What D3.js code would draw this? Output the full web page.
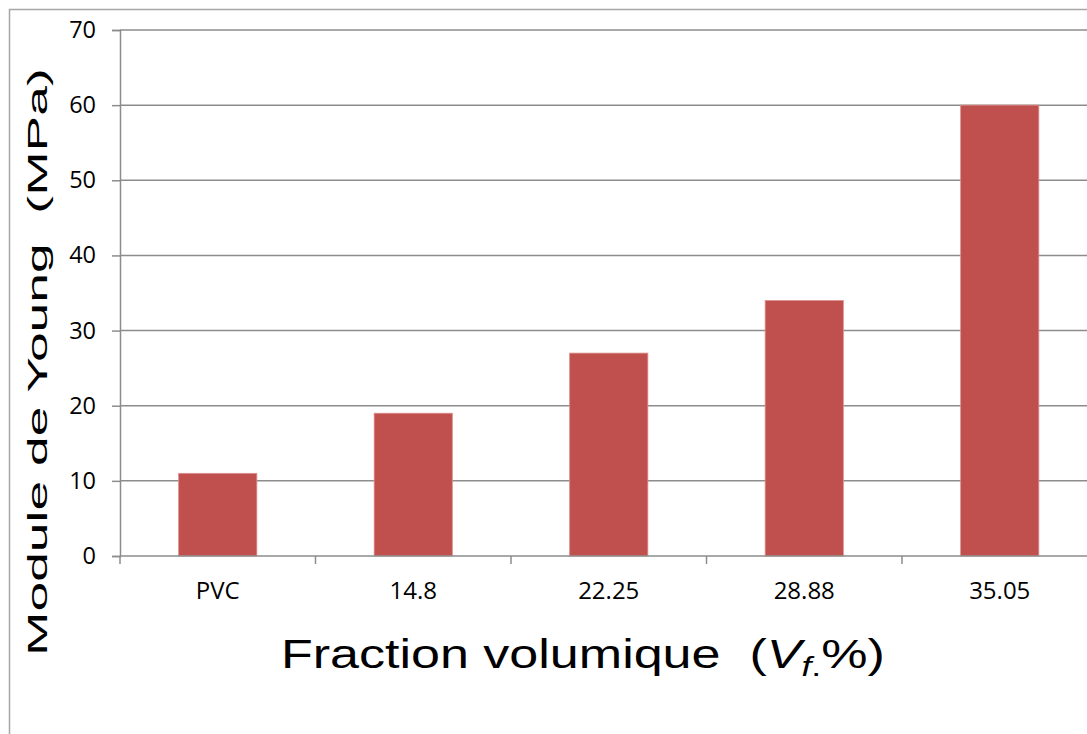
<!DOCTYPE html>
<html>
<head>
<meta charset="utf-8">
<script src="https://d3js.org/d3.v7.min.js"></script>
<style>
  body { margin: 0; background: #fff; }
  svg { display: block; }
  .title { white-space: pre; }
</style>
</head>
<body>
<div id="vis"></div>
<script>
// Young modulus vs fibre volume fraction

const FRAME_WIDTH = 1087;
const FRAME_HEIGHT = 734;
const MARGINS = {left: 120, top: 30, bottom: 178};

const categories = ["PVC", "14.8", "22.25", "28.88", "35.05"];
const youngModulus = [11, 19, 27, 34, 60];
const yTicks = [0, 10, 20, 30, 40, 50, 60, 70];

const STEP = 195.5;
const PLOT_RIGHT = MARGINS.left + STEP * categories.length;
const PLOT_BOTTOM = FRAME_HEIGHT - MARGINS.bottom;

const GRID = "#8c8c8c";
const BAR = "#c0504d";

const FRAME = d3.select("#vis")
  .append("svg")
    .attr("width", FRAME_WIDTH)
    .attr("height", FRAME_HEIGHT);

// outer chart border (only top and left are visible)
FRAME.append("path")
  .attr("d", "M9.5," + FRAME_HEIGHT + "V9.5H" + FRAME_WIDTH)
  .attr("fill", "none")
  .attr("stroke", "#a6a6a6")
  .attr("stroke-width", 1.5);

// scales
const X_SCALE = d3.scaleBand()
  .domain(categories)
  .range([MARGINS.left, PLOT_RIGHT])
  .padding(0);

const Y_SCALE = d3.scaleLinear()
  .domain([0, 70])
  .range([PLOT_BOTTOM, MARGINS.top]);

// horizontal gridlines
FRAME.append("g")
  .selectAll("line")
  .data(yTicks.filter(d => d > 0))
  .enter()
  .append("line")
    .attr("x1", MARGINS.left)
    .attr("x2", FRAME_WIDTH)
    .attr("y1", d => Y_SCALE(d))
    .attr("y2", d => Y_SCALE(d))
    .attr("stroke", GRID)
    .attr("stroke-width", 1.5);

// bars
const BAR_W = X_SCALE.bandwidth() * 0.4;
FRAME.append("g")
  .selectAll("rect")
  .data(youngModulus)
  .enter()
  .append("rect")
    .attr("x", (d, i) => X_SCALE(categories[i]) + (X_SCALE.bandwidth() - BAR_W) / 2)
    .attr("y", d => Y_SCALE(d))
    .attr("width", BAR_W)
    .attr("height", d => PLOT_BOTTOM - Y_SCALE(d))
    .attr("fill", BAR)
    .attr("stroke", "#dc8f8d")
    .attr("stroke-width", 0.8);

// y axis
const yAxis = FRAME.append("g")
  .attr("transform", "translate(" + MARGINS.left + ",0)")
  .call(d3.axisLeft(Y_SCALE).tickValues(yTicks).tickSize(8).tickPadding(16));
yAxis.select(".domain").attr("stroke", GRID).attr("stroke-width", 1.5);
yAxis.selectAll(".tick line").attr("stroke", GRID).attr("stroke-width", 1.5);
yAxis.selectAll(".tick text")
  .attr("font-family", "'Open Sans', sans-serif")
  .attr("font-size", "23.5px")
  .attr("fill", "#000");

// x axis: ticks on band boundaries
const xAxis = FRAME.append("g")
  .attr("transform", "translate(0," + PLOT_BOTTOM + ")");
xAxis.append("line")
  .attr("x1", MARGINS.left)
  .attr("x2", FRAME_WIDTH)
  .attr("stroke", GRID)
  .attr("stroke-width", 1.5);
xAxis.selectAll(".bound")
  .data(categories)
  .enter()
  .append("line")
    .attr("class", "bound")
    .attr("x1", d => X_SCALE(d))
    .attr("x2", d => X_SCALE(d))
    .attr("y1", 0)
    .attr("y2", 8)
    .attr("stroke", GRID)
    .attr("stroke-width", 1.5);
xAxis.selectAll(".lbl")
  .data(categories)
  .enter()
  .append("text")
    .attr("class", "lbl")
    .attr("x", d => X_SCALE(d) + X_SCALE.bandwidth() / 2)
    .attr("y", 43)
    .attr("text-anchor", "middle")
    .attr("font-family", "'Open Sans', sans-serif")
    .attr("font-size", "24px")
    .text(d => d);

// stretch a title to the width it has in the picture
function stretch(sel, length, x, y, rot) {
  const w = sel.node().getBBox().width;
  const sx = length / w;
  sel.attr("transform", "translate(" + x + "," + y + ")" + (rot ? " rotate(-90)" : "") + " scale(" + sx + ",1)");
}

// x axis title
const xTitle = FRAME.append("text")
  .attr("class", "title")
  .attr("font-family", "'Liberation Sans', Arial, sans-serif")
  .attr("font-size", "41px")
  .attr("fill", "#000");
xTitle.append("tspan").text("Fraction volumique  (");
xTitle.append("tspan").attr("font-style", "italic").text("V");
xTitle.append("tspan")
  .attr("font-style", "italic")
  .attr("font-size", "28px")
  .attr("dy", 8)
  .text("f");
xTitle.append("tspan").attr("font-size", "28px").text(".");
xTitle.append("tspan").attr("dy", -8).text("%)");
stretch(xTitle, 604, 281, 668, false);

// y axis title
const yTitle = FRAME.append("text")
  .attr("class", "title")
  .attr("font-family", "'Liberation Sans', Arial, sans-serif")
  .attr("font-size", "28px")
  .attr("fill", "#000")
  .text("Module de Young  (MPa)");
stretch(yTitle, 588, 47, 656, true);
</script>
</body>
</html>
